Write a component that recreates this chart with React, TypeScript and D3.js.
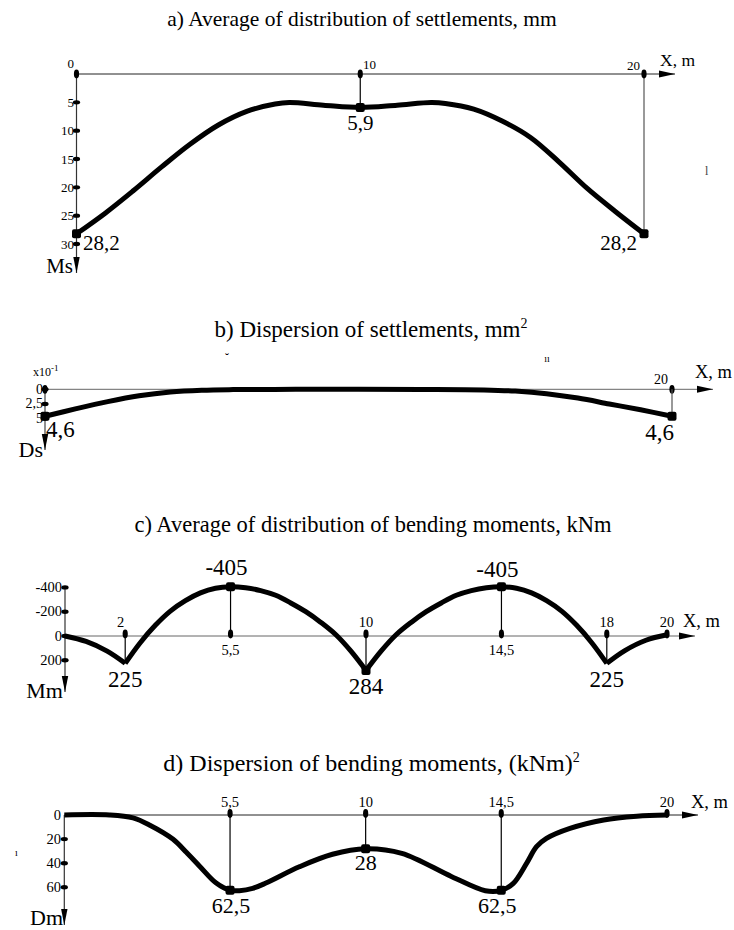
import { curveCatmullRom, line, scaleLinear } from "d3";

const W = 734;
const H = 930;
const FONT = "'Liberation Serif', 'Times New Roman', serif";
const INK = "#000";

// a) average of settlements, mm
const settleMeanX = [0, 1, 2, 3, 4, 5, 6, 7, 7.5, 8.7, 10, 11.3, 12.5, 13, 14, 15, 16, 17, 18, 19, 20];
const settleMean = [28.2, 24.6, 20.6, 16.4, 12.4, 9.0, 6.6, 5.3, 5.05, 5.5, 5.9, 5.5, 5.05, 5.2, 6.2, 8.3, 11.2, 15.5, 20.2, 24.3, 28.2];
const settleTicks = [5, 10, 15, 20, 25, 30];
const settleXTicks = [0, 10, 20];
const settleMarkX = [0, 10, 20];
const settleMarkV = [28.2, 5.9, 28.2];

// b) dispersion of settlements, mm2 (x10^-1)
const settleDispX = [0, 1, 2, 3, 4, 5, 6, 8, 10, 12, 14, 15, 16, 17, 18, 19, 20];
const settleDisp = [4.6, 3.3, 2.1, 1.1, 0.45, 0.15, 0.05, 0.01, 0, 0.02, 0.1, 0.3, 0.75, 1.5, 2.5, 3.5, 4.6];
const dispTicks = [0, 2.5, 5];
const dispTickLabels = ["0", "2,5", "5"];
const dispMarkX = [0, 20];
const dispMarkV = [4.6, 4.6];

// c) average of bending moments, kNm
const momentX = [0, 0.7, 1.4, 2, 2.5, 3, 3.5, 4, 4.5, 5, 5.5, 6, 6.5, 7, 7.5, 8, 8.5, 9, 9.5, 10,
  10.5, 11, 11.5, 12, 12.5, 13, 13.5, 14, 14.5, 15, 15.5, 16, 16.5, 17, 17.5, 18, 18.6, 19.3, 20];
const momentMean = [0, 45, 125, 225, 55, -88, -205, -291, -355, -393, -405, -397, -374, -335, -272, -200, -112, -10, 125, 284,
  125, -10, -112, -200, -272, -335, -374, -397, -405, -393, -355, -291, -205, -88, 55, 225, 120, 35, -10];
const momentCusps = [2, 10, 18];
const momentTicks = [-400, -200, 0, 200];
const momentXTicks = [2, 5.5, 10, 14.5, 18, 20];
const momentXTickLabels = ["2", "5,5", "10", "14,5", "18", "20"];
const momentMarkX = [5.5, 10, 14.5];

// d) dispersion of bending moments, (kNm)2
const momentDispX = [0, 1.5, 2.28, 2.84, 3.6, 4.05, 4.49, 5.04, 5.5, 5.81, 6.25, 6.69, 7.8, 8.9, 10,
  11.2, 12.86, 13.97, 14.5, 14.9, 15.34, 15.67, 16.0, 16.78, 17.9, 19, 20];
const momentDisp = [0, 0, 2.4, 8.5, 20, 31, 42.5, 56.5, 62.5, 62.8, 60.9, 56.5, 43, 32.6, 28,
  31.8, 51.2, 62.8, 62.5, 56.7, 40.1, 26.3, 19.4, 11.1, 4.1, 1, 0];
const mdispTicks = [0, 20, 40, 60];
const mdispXTicks = [5.5, 10, 14.5, 20];
const mdispXTickLabels = ["5,5", "10", "14,5", "20"];
const mdispMarkX = [5.5, 10, 14.5];
const mdispMarkV = [62.5, 28, 62.5];

const fmt = (v: number) => String(v).replace(".", ",");

const XTick = ({ cx, cy }: { cx: number; cy: number }) => <ellipse cx={cx} cy={cy} rx={2.6} ry={4.4} fill={INK} />;
const YTick = ({ cx, cy }: { cx: number; cy: number }) => <ellipse cx={cx} cy={cy} rx={3.6} ry={2.2} fill={INK} />;
const Marker = ({ cx, cy }: { cx: number; cy: number }) => (
  <rect x={cx - 4.5} y={cy - 4.5} width={9} height={9} rx={2} fill={INK} />
);
const ArrowRight = ({ x, y }: { x: number; y: number }) => (
  <path d={`M${x},${y}L${x - 16},${y - 3.5}L${x - 16},${y + 3.5}Z`} fill={INK} />
);
const ArrowDown = ({ x, y }: { x: number; y: number }) => (
  <path d={`M${x},${y}L${x - 3.2},${y - 16}L${x + 3.2},${y - 16}Z`} fill={INK} />
);

const curvePath = (xs: number[], vs: number[], sx: any, sy: any) =>
  line<number>()
    .x((_, i) => sx(xs[i]))
    .y((v) => sy(v))
    .curve(curveCatmullRom.alpha(0.5))(vs) ?? "";

function splitAtCusps(xs: number[], vs: number[], cusps: number[]) {
  const segments: { xs: number[]; vs: number[] }[] = [];
  let cur = { xs: [] as number[], vs: [] as number[] };
  xs.forEach((x, i) => {
    cur.xs.push(x);
    cur.vs.push(vs[i]);
    if (cusps.includes(x) && cur.xs.length > 1) {
      segments.push(cur);
      cur = { xs: [x], vs: [vs[i]] };
    }
  });
  if (cur.xs.length > 1) segments.push(cur);
  return segments;
}

function PanelA() {
  const x = scaleLinear().domain([0, 20]).range([76.5, 644]);
  const y = scaleLinear().domain([0, 30]).range([74, 244]);
  return (
    <g>
      <text x={362} y={26} textAnchor="middle" fontSize={21.5}>a) Average of distribution of settlements, mm</text>
      <line x1={x(0)} x2={675} y1={y(0)} y2={y(0)} stroke="#222" strokeWidth={1} />
      <ArrowRight x={675} y={y(0)} />
      <text x={660} y={66} fontSize={17.5}>X, m</text>
      <line x1={x(0)} x2={x(0)} y1={y(0)} y2={273} stroke="#333" strokeWidth={1.2} />
      <ArrowDown x={x(0)} y={273} />
      <text x={73} y={273} textAnchor="end" fontSize={21}>Ms</text>
      {settleTicks.map((t) => (
        <g key={t}>
          <YTick cx={x(0)} cy={y(t)} />
          <text x={74} y={y(t) + 4.5} textAnchor="end" fontSize={13}>{t}</text>
        </g>
      ))}
      <line x1={x(10)} x2={x(10)} y1={y(0)} y2={y(5.9)} stroke={INK} strokeWidth={1.2} />
      <line x1={x(20)} x2={x(20)} y1={y(0)} y2={y(28.2)} stroke="#555" strokeWidth={1.2} />
      {settleXTicks.map((t) => <XTick key={t} cx={x(t)} cy={y(0)} />)}
      <text x={74} y={68} textAnchor="end" fontSize={13}>0</text>
      <text x={363} y={69} fontSize={13}>10</text>
      <text x={640} y={70} textAnchor="end" fontSize={13}>20</text>
      <path d={curvePath(settleMeanX, settleMean, x, y)} fill="none" stroke={INK} strokeWidth={5} />
      {settleMarkX.map((m, i) => <Marker key={m} cx={x(m)} cy={y(settleMarkV[i])} />)}
      <text x={x(0) + 6.5} y={250} fontSize={21}>{fmt(settleMarkV[0])}</text>
      <text x={x(10)} y={130} textAnchor="middle" fontSize={21}>{fmt(settleMarkV[1])}</text>
      <text x={x(20) - 7} y={250} textAnchor="end" fontSize={21}>{fmt(settleMarkV[2])}</text>
      <text x={705} y={175} fontSize={12} fill="#444">l</text>
    </g>
  );
}

function PanelB() {
  const x = scaleLinear().domain([0, 20]).range([45, 672]);
  const y = scaleLinear().domain([0, 5]).range([389.3, 418.6]);
  return (
    <g>
      <text x={371} y={336.7} textAnchor="middle" fontSize={23}>
        b) Dispersion of settlements, mm<tspan dy={-9} fontSize={14}>2</tspan>
      </text>
      <text x={227} y={362} textAnchor="middle" fontSize={12}>˘</text>
      <text x={547} y={362} textAnchor="middle" fontSize={10}>ıı</text>
      <line x1={x(0)} x2={713} y1={y(0)} y2={y(0)} stroke="#666" strokeWidth={1} />
      <ArrowRight x={713} y={y(0)} />
      <text x={695} y={378} fontSize={18.5}>X, m</text>
      <line x1={x(0)} x2={x(0)} y1={y(0)} y2={450} stroke="#444" strokeWidth={1.2} />
      <ArrowDown x={x(0)} y={450} />
      <text x={43} y={457} textAnchor="end" fontSize={22}>Ds</text>
      <text x={33} y={376} fontSize={12}>x10<tspan dy={-5} fontSize={9}>-1</tspan></text>
      {dispTicks.map((t, i) => (
        <g key={t}>
          <YTick cx={x(0)} cy={y(t)} />
          <text x={43} y={y(t) + 4.5} textAnchor="end" fontSize={14}>{dispTickLabels[i]}</text>
        </g>
      ))}
      <XTick cx={x(0)} cy={y(0)} />
      <XTick cx={x(20)} cy={y(0)} />
      <text x={668} y={384} textAnchor="end" fontSize={14}>20</text>
      <line x1={x(20)} x2={x(20)} y1={y(0)} y2={y(4.6)} stroke="#555" strokeWidth={1.2} />
      <path d={curvePath(settleDispX, settleDisp, x, y)} fill="none" stroke={INK} strokeWidth={5} />
      {dispMarkX.map((m, i) => <Marker key={m} cx={x(m)} cy={y(dispMarkV[i])} />)}
      <text x={46} y={437} fontSize={23}>{fmt(dispMarkV[0])}</text>
      <text x={674} y={440} textAnchor="end" fontSize={23}>{fmt(dispMarkV[1])}</text>
    </g>
  );
}

function PanelC() {
  const x = scaleLinear().domain([0, 20]).range([65, 667]);
  const y = scaleLinear().domain([-400, 200]).range([587.4, 660.3]);
  const segments = splitAtCusps(momentX, momentMean, momentCusps);
  const valueAt = (m: number) => momentMean[momentX.indexOf(m)];
  const above = [2, 10, 18, 20];
  return (
    <g>
      <text x={373} y={531.7} textAnchor="middle" fontSize={22.5}>c) Average of distribution of bending moments, kNm</text>
      <line x1={x(0)} x2={695} y1={y(0)} y2={y(0)} stroke="#666" strokeWidth={1} />
      <ArrowRight x={695} y={y(0)} />
      <text x={683} y={627} fontSize={18.5}>X, m</text>
      <line x1={x(0)} x2={x(0)} y1={y(-400)} y2={692} stroke="#333" strokeWidth={1.2} />
      <ArrowDown x={x(0)} y={692} />
      <text x={63} y={698} textAnchor="end" fontSize={22}>Mm</text>
      {momentTicks.map((t) => (
        <g key={t}>
          <YTick cx={x(0)} cy={y(t)} />
          <text x={62} y={y(t) + 4.5} textAnchor="end" fontSize={14.5}>{t}</text>
        </g>
      ))}
      {momentXTicks.slice(0, 5).map((m) => (
        <line key={m} x1={x(m)} x2={x(m)} y1={y(0)} y2={y(valueAt(m))} stroke={INK} strokeWidth={1.2} />
      ))}
      {momentXTicks.map((m, i) => (
        <g key={m}>
          <XTick cx={x(m)} cy={y(0) - 2} />
          <text
            x={m === 2 ? x(m) - 1 : x(m)}
            y={above.includes(m) ? 627 : 655}
            textAnchor={m === 2 ? "end" : "middle"}
            fontSize={14.5}
          >
            {momentXTickLabels[i]}
          </text>
        </g>
      ))}
      {segments.map((s, i) => (
        <path key={i} d={curvePath(s.xs, s.vs, x, y)} fill="none" stroke={INK} strokeWidth={5} />
      ))}
      {momentMarkX.map((m) => <Marker key={m} cx={x(m)} cy={y(valueAt(m))} />)}
      <text x={x(5.5) - 4} y={575} textAnchor="middle" fontSize={23}>{valueAt(5.5)}</text>
      <text x={x(14.5) - 4} y={577} textAnchor="middle" fontSize={23}>{valueAt(14.5)}</text>
      <text x={x(2)} y={687} textAnchor="middle" fontSize={23}>{valueAt(2)}</text>
      <text x={x(10)} y={694} textAnchor="middle" fontSize={23}>{valueAt(10)}</text>
      <text x={x(18)} y={687} textAnchor="middle" fontSize={23}>{valueAt(18)}</text>
    </g>
  );
}

function PanelD() {
  const x = scaleLinear().domain([0, 20]).range([64.3, 667]);
  const y = scaleLinear().domain([0, 60]).range([815, 887.3]);
  return (
    <g>
      <text x={371.5} y={770.7} textAnchor="middle" fontSize={24}>
        d) Dispersion of bending moments, (kNm)<tspan dy={-9} fontSize={14}>2</tspan>
      </text>
      <text x={15} y={856} fontSize={10}>ı</text>
      <line x1={x(0)} x2={698} y1={y(0)} y2={y(0)} stroke="#222" strokeWidth={1} />
      <ArrowRight x={698} y={y(0)} />
      <text x={691} y={808} fontSize={18.5}>X, m</text>
      <line x1={x(0)} x2={x(0)} y1={y(0)} y2={925} stroke="#333" strokeWidth={1.2} />
      <ArrowDown x={x(0)} y={925} />
      <text x={63} y={925} textAnchor="end" fontSize={22}>Dm</text>
      {mdispTicks.map((t) => (
        <g key={t}>
          {t > 0 && <YTick cx={x(0)} cy={y(t)} />}
          <text x={61} y={y(t) + 4.5} textAnchor="end" fontSize={14.5}>{t}</text>
        </g>
      ))}
      {mdispMarkX.map((m, i) => (
        <line key={m} x1={x(m)} x2={x(m)} y1={y(0)} y2={y(mdispMarkV[i])} stroke={INK} strokeWidth={1.2} />
      ))}
      {mdispXTicks.map((m, i) => (
        <g key={m}>
          <XTick cx={x(m)} cy={y(0) - 1.5} />
          <text x={x(m)} y={807} textAnchor="middle" fontSize={14.5}>{mdispXTickLabels[i]}</text>
        </g>
      ))}
      <path d={curvePath(momentDispX, momentDisp, x, y)} fill="none" stroke={INK} strokeWidth={5} />
      {mdispMarkX.map((m, i) => <Marker key={m} cx={x(m)} cy={y(mdispMarkV[i])} />)}
      <text x={x(5.5) + 1} y={913} textAnchor="middle" fontSize={22}>{fmt(mdispMarkV[0])}</text>
      <text x={x(10)} y={870} textAnchor="middle" fontSize={22}>{fmt(mdispMarkV[1])}</text>
      <text x={x(14.5) - 4} y={913} textAnchor="middle" fontSize={22}>{fmt(mdispMarkV[2])}</text>
    </g>
  );
}

export default function App() {
  return (
    <svg
      width={W}
      height={H}
      viewBox={`0 0 ${W} ${H}`}
      style={{ position: "absolute", left: 0, top: 0, background: "#fff" }}
      fontFamily={FONT}
      fill={INK}
    >
      <PanelA />
      <PanelB />
      <PanelC />
      <PanelD />
    </svg>
  );
}
